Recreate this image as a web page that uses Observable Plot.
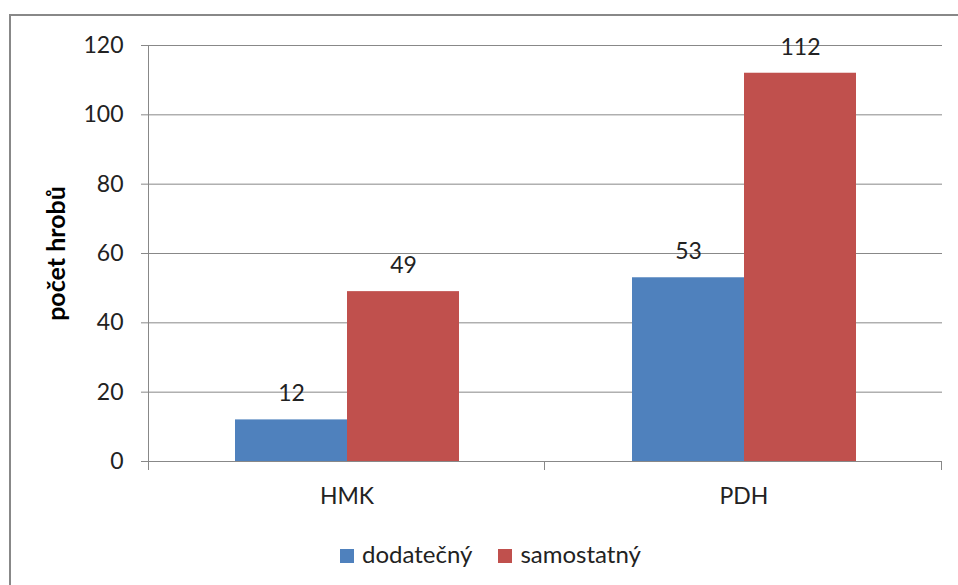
<!DOCTYPE html>
<html>
<head>
<meta charset="utf-8">
<script src="https://cdn.jsdelivr.net/npm/d3@7"></script>
<script src="https://cdn.jsdelivr.net/npm/@observablehq/plot@0.6"></script>
<style>
  body { margin: 0; background: #fff; }
  #wrap { position: relative; width: 958px; height: 585px; overflow: hidden; font-family: Lato, "Open Sans", sans-serif; }
  #frame { position: absolute; left: 9px; top: 14px; width: 990px; height: 620px; border: 2px solid #888; box-sizing: border-box; pointer-events: none; }
  #chart { position: absolute; left: 0; top: 0; }
  #chart svg { font-family: Lato, "Open Sans", sans-serif; }
  g[aria-label="y-axis label"] text { font-weight: bold; font-size: 25px; fill: #000; }
  #legend { position: absolute; left: 340px; top: 539px; display: flex; align-items: center; font-size: 24px; color: #222; }
  .item { display: flex; align-items: center; margin-right: 26px; }
  .sw { width: 14px; height: 14px; margin-right: 8px; margin-top: 4px; }
</style>
</head>
<body>
<div id="wrap">
  <div id="chart"></div>
  <div id="frame"></div>
  <div id="legend"></div>
</div>
<script>
// ---- data ----
const categories = ["HMK", "PDH"];
const series = ["dodatečný", "samostatný"];
const dodatecny = [12, 53];
const samostatny = [49, 112];
const yTicks = [0, 20, 40, 60, 80, 100, 120];
const colors = ["#4F81BD", "#C0504D"];
const yLabel = "počet hrobů";

const values = [dodatecny, samostatny];
const table = [];
categories.forEach((c, i) => {
  series.forEach((s, j) => table.push({cat: c, series: s, value: values[j][i]}));
});

const W = 958, H = 585;
const chart = Plot.plot({
  width: W,
  height: H,
  marginLeft: 148,
  marginRight: 16,
  marginTop: 45,
  marginBottom: 124,
  style: {fontFamily: "Lato, 'Open Sans', sans-serif", background: "transparent", overflow: "visible"},
  fx: {domain: categories, padding: 0, label: null},
  x: {domain: series, paddingInner: 0, paddingOuter: 0.757, axis: null},
  y: {domain: [0, 120]},
  color: {domain: series, range: colors},
  marks: [
    Plot.gridY(yTicks, {stroke: "#888", strokeOpacity: 1, strokeWidth: 1}),
    Plot.axisY(yTicks, {
      tickSize: 7, tickPadding: 18, fontSize: 23, stroke: "#888", fill: "#222",
      label: yLabel, labelAnchor: "center", labelOffset: 101, labelArrow: false
    }),
    Plot.axisFx({anchor: "bottom", tickSize: 0, tickPadding: 26, fontSize: 23, fill: "#222", label: null}),
    Plot.barY(table, {fx: "cat", x: "series", y: "value", fill: "series"}),
    Plot.text(table, {fx: "cat", x: "series", y: "value", text: d => String(d.value), dy: -26, fontSize: 23, fill: "#222"})
  ]
});
document.getElementById("chart").appendChild(chart);

// axis line and category-boundary ticks, positioned from Plot's own scales
const fx = chart.scale("fx");
const y = chart.scale("y");
const y0 = y.apply(0), yTop = y.apply(120);
const edges = fx.domain.map(d => fx.apply(d));
edges.push(edges[edges.length - 1] + fx.bandwidth);
const g = d3.select(chart).append("g").attr("stroke", "#888").attr("stroke-width", 1);
g.append("line").attr("x1", edges[0] + 0.5).attr("x2", edges[0] + 0.5).attr("y1", yTop).attr("y2", y0 + 9);
edges.slice(1).forEach(e => {
  g.append("line").attr("x1", e - 0.5).attr("x2", e - 0.5).attr("y1", y0).attr("y2", y0 + 9);
});

// legend
const leg = document.getElementById("legend");
series.forEach((s, i) => {
  const it = document.createElement("div");
  it.className = "item";
  const sw = document.createElement("div");
  sw.className = "sw";
  sw.style.background = colors[i];
  const t = document.createElement("span");
  t.textContent = s;
  it.appendChild(sw); it.appendChild(t);
  leg.appendChild(it);
});
</script>
</body>
</html>
